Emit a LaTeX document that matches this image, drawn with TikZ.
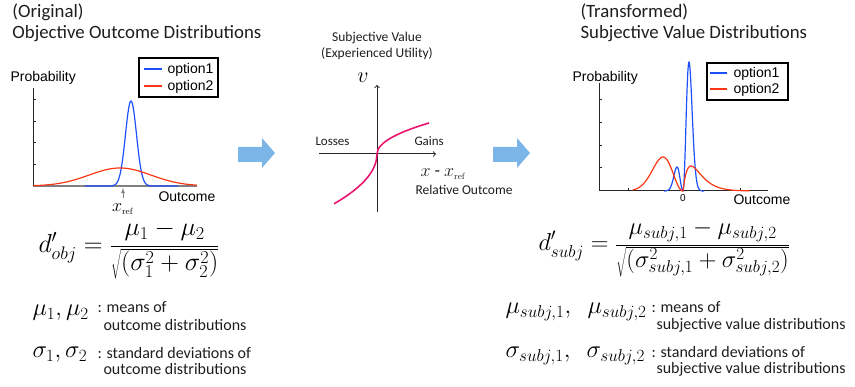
\RequirePackage{fix-cm}
\documentclass[tikz,border=0pt]{standalone}
\usepackage[no-math]{fontspec}
\setmainfont{Carlito}
\newfontfamily\arialfont{Liberation Sans}
\usepackage{tikz}
\definecolor{optblue}{RGB}{30,80,250}
\definecolor{optred}{RGB}{250,55,20}
\definecolor{vpink}{RGB}{232,20,110}
\definecolor{arrowblue}{RGB}{124,182,232}
\definecolor{txtgray}{RGB}{30,30,30}
\begin{document}
\begin{tikzpicture}[x=1pt, y=-1pt, line width=1pt,
  ttl/.style={anchor=base west, inner sep=0, text=txtgray, font=\fontsize{18.8}{22}\selectfont},
  ptext/.style={anchor=base west, inner sep=0, font=\arialfont\fontsize{14}{16}\selectfont},
  mtext/.style={anchor=base, inner sep=0, text=txtgray, font=\fontsize{13.5}{16}\selectfont},
  ntext/.style={anchor=base west, inner sep=0, text=txtgray, font=\fontsize{16}{18}\selectfont},
  fml/.style={anchor=base west, inner sep=0, font=\fontsize{24.5}{28}\selectfont},
  axis/.style={black!85, line width=1pt},
  declare function={gauss(\t,\s)=exp(-0.5*(\t/\s)*(\t/\s));
    bump(\t,\s)=(\t/\s)*(\t/\s)*exp(1-(\t/\s)*(\t/\s));
    gam(\t,\s)=(\t/\s)*exp(1-\t/\s);}]
\useasboundingbox (0,0) rectangle (855,387);

\node[ttl] (origA) at (12,18) {(Original)};
\node[ttl] (origB) at (12,39) {Objective Outcome Distributions};
\node[ptext] (probL) at (10,82) {Probability};
\node[ptext] (outL) at (158,202) {Outcome};
\coordinate (L0) at (33,186);
\coordinate (Ltop) at (33,88);
\coordinate (Lend) at (197,186);
\coordinate (Lref) at (123,188);
\draw[axis] (Ltop) -- (L0);
\draw[gray, line width=1.6pt] (L0) -- (Lend);
\foreach \y in {100,122,143,165} \draw[axis] (33,\y) -- (35.5,\y);
\draw[optblue, line width=1.2pt] plot[domain=85:178, samples=140] (\x, {186-85*gauss(\x-131,5.5)});
\draw[optred, line width=1.2pt] plot[domain=33:197, samples=90] (\x, {186-18*gauss(\x-120,31)});
\node[anchor=base, inner sep=0, font=\fontsize{18}{20}\selectfont] (xrefL) at (123,212) {$x_{\scriptscriptstyle\mathrm{ref}}$};
\draw[gray, ->, >=latex, line width=0.8pt] (123,198) -- (Lref);
\draw[black, line width=1.3pt] (139,58) rectangle (218,97);
\draw[optblue, line width=1.6pt] (144,69) -- (162,69);
\node[ptext] (leg1L) at (167,74) {option1};
\draw[optred, line width=1.6pt] (144,86) -- (162,86);
\node[ptext] (leg2L) at (167,91) {option2};

\fill[arrowblue] (238,147) -- (262,147) -- (262,138) -- (275,153) -- (262,168) -- (262,162) -- (238,162) -- cycle;

\node[mtext] (svA) at (377,42) {Subjective Value};
\node[mtext] (svB) at (377,58) {(Experienced Utility)};
\node[anchor=base, inner sep=0, font=\fontsize{22}{24}\selectfont] (vlab) at (363,83) {$v$};
\coordinate (O) at (377,154);
\draw[axis, ->] (377,212) -- (377,85);
\draw[axis, ->] (319,154) -- (436,154);
\node[ntext, font=\fontsize{13}{16}\selectfont] (loss) at (315,146) {Losses};
\node[ntext, font=\fontsize{13}{16}\selectfont] (gain) at (414,146) {Gains};
\node[ntext, font=\fontsize{18}{20}\selectfont] (xdiff) at (420,177) {$x$ - $x_{\scriptscriptstyle\mathrm{ref}}$};
\node[ntext, font=\fontsize{13.5}{16}\selectfont] (relout) at (415,195) {Relative Outcome};
\draw[vpink, line width=1.6pt] plot[domain=43:0, samples=60] ({377-\x}, {154+7.6*sqrt(\x)}) -- plot[domain=0:52, samples=60] ({377+\x}, {154-4.3*sqrt(\x)});

\fill[arrowblue] (493,147) -- (517,147) -- (517,138) -- (530,153) -- (517,168) -- (517,162) -- (493,162) -- cycle;

\node[ttl] (transA) at (580,18) {(Transformed)};
\node[ttl] (transB) at (580,39) {Subjective Value Distributions};
\node[ptext] (probR) at (572,82) {Probability};
\node[ptext] (outR) at (733,205) {Outcome};
\node[anchor=base, inner sep=0, font=\arialfont\fontsize{10}{12}\selectfont] (zero) at (683,202) {0};
\coordinate (R0) at (599,191);
\draw[axis] (599,83) -- (R0) -- (768,191);
\foreach \y in {100,123,146,168} \draw[axis] (599,\y) -- (601.5,\y);
\foreach \x in {628,683,740} \draw[axis] (\x,191) -- (\x,188.5);
\draw[optblue, line width=1.2pt] plot[domain=664:683, samples=50] (\x, {191-24*bump(683-\x,6)}) -- plot[domain=683:704, samples=80] (\x, {191-129*bump(\x-683,6)});
\draw[optred, line width=1.2pt] plot[domain=633:683, samples=70] (\x, {191-34*bump(683-\x,20)}) -- plot[domain=683:750, samples=90] (\x, {191-25*gam(\x-683,8)});
\draw[black, line width=1.3pt] (707,63) rectangle (788,100);
\draw[optblue, line width=1.6pt] (710,73) -- (727,73);
\node[ptext] (leg1R) at (733,78) {option1};
\draw[optred, line width=1.6pt] (710,89) -- (727,89);
\node[ptext] (leg2R) at (733,94) {option2};

\node[fml, font=\fontsize{26}{30}\selectfont] (dobj) at (38,253) {$\displaystyle d'_{obj} = \frac{\mu_1 - \mu_2}{\sqrt{\vphantom{\big(}(\sigma_1^2 + \sigma_2^2)}}$};
\node[fml] (muL) at (32,316) {$\mu_1, \mu_2$};
\node[ntext] (muLa) at (97,313) {: means of};
\node[ntext] (muLb) at (103,331) {outcome distributions};
\node[fml] (sigL) at (32,358) {$\sigma_1, \sigma_2$};
\node[ntext] (sigLa) at (97,359) {: standard deviations of};
\node[ntext] (sigLb) at (103,375) {outcome distributions};

\node[fml] (dsubj) at (538,251) {$\displaystyle d'_{subj} = \frac{\mu_{subj,1} - \mu_{subj,2}}{\sqrt{\vphantom{\big(}(\sigma_{subj,1}^2 + \sigma_{subj,2}^2)}}$};
\node[fml] (muR) at (505,314) {$\mu_{subj,1},\hspace{0.5em}\mu_{subj,2}$};
\node[ntext] (muRa) at (651,313) {: means of};
\node[ntext] (muRb) at (656,330) {subjective value distributions};
\node[fml] (sigR) at (505,358) {$\sigma_{subj,1},\hspace{0.5em}\sigma_{subj,2}$};
\node[ntext] (sigRa) at (651,358) {: standard deviations of};
\node[ntext] (sigRb) at (656,374) {subjective value distributions};
\end{tikzpicture}
\end{document}
